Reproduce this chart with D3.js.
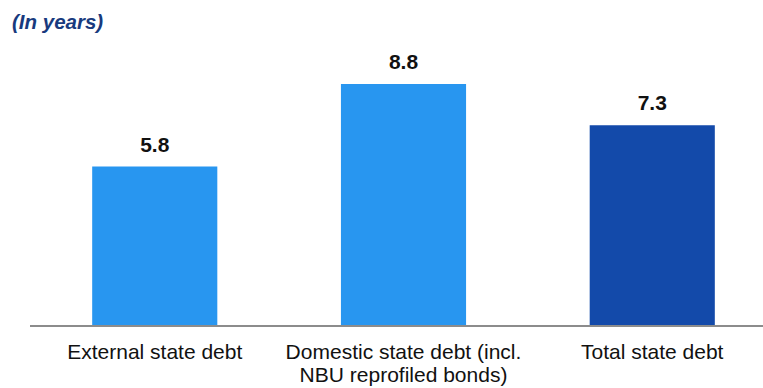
<!DOCTYPE html>
<html>
<head>
<meta charset="utf-8">
<script src="https://cdn.jsdelivr.net/npm/d3@7"></script>
<style>
  html, body { margin: 0; padding: 0; background: #fff; }
  svg { display: block; font-family: "Liberation Sans", Arial, sans-serif; }
</style>
</head>
<body>
<svg id="chart" width="763" height="388"></svg>
<script>
// Average maturity of state debt, years
const categories = ["External state debt", "Domestic state debt (incl.|NBU reprofiled bonds)", "Total state debt"];
const values = [5.8, 8.8, 7.3];
const barColors = ["#2896f0", "#2896f0", "#134aaa"];

const width = 763, height = 388;
const baseY = 326;

const svg = d3.select("#chart");

// subtitle
svg.append("text")
  .attr("x", 12)
  .attr("y", 28.5)
  .attr("font-size", 20.5)
  .attr("font-weight", "bold")
  .attr("font-style", "italic")
  .attr("fill", "#183a7e")
  .text("(In years)");

const x = d3.scaleBand()
  .domain(categories)
  .range([30, 777])
  .paddingInner(0.497)
  .paddingOuter(0.25);

const y = d3.scaleLinear()
  .domain([0, 10])
  .range([baseY, baseY - 275]);

const bars = svg.append("g");
bars.selectAll("rect")
  .data(values)
  .join("rect")
  .attr("x", (d, i) => x(categories[i]))
  .attr("width", x.bandwidth())
  .attr("y", d => y(d))
  .attr("height", d => y(0) - y(d))
  .attr("fill", (d, i) => barColors[i]);

// value labels
bars.selectAll("text")
  .data(values)
  .join("text")
  .attr("x", (d, i) => x(categories[i]) + x.bandwidth() / 2)
  .attr("y", d => y(d) - 15)
  .attr("text-anchor", "middle")
  .attr("font-size", 21)
  .attr("font-weight", "bold")
  .attr("fill", "#111")
  .text(d => d.toFixed(1));

// baseline
svg.append("line")
  .attr("x1", 30).attr("x2", width)
  .attr("y1", baseY).attr("y2", baseY)
  .attr("stroke", "#8c8c8c")
  .attr("stroke-width", 2);

// category labels, "|" marks a line break
const labels = svg.append("g")
  .selectAll("text")
  .data(categories)
  .join("text")
  .attr("x", d => x(d) + x.bandwidth() / 2)
  .attr("y", baseY + 33)
  .attr("text-anchor", "middle")
  .attr("font-size", 21)
  .attr("fill", "#111");

labels.selectAll("tspan")
  .data(d => d.split("|").map(s => ({ s, cx: x(d) + x.bandwidth() / 2 })))
  .join("tspan")
  .attr("x", d => d.cx)
  .attr("dy", (d, i) => i ? 23 : 0)
  .text(d => d.s);
</script>
</body>
</html>
